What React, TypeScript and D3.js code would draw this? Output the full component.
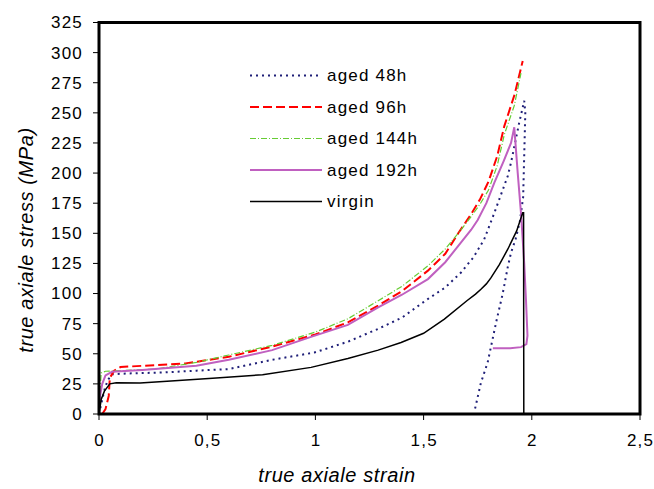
import React from 'react';
import * as d3 from 'd3';

// strain / stress pairs
const aged48h: [number, number][] = [
  [0, 0], [0.01, 8], [0.025, 20], [0.04, 28], [0.06, 33], [0.14, 33.7], [0.3, 34.5],
  [0.45, 36], [0.6, 37.3], [0.8, 45], [0.995, 51], [1.15, 60], [1.288, 70.5], [1.4, 80],
  [1.519, 95.4], [1.6, 105], [1.673, 117.5], [1.73, 130], [1.78, 145], [1.827, 167],
  [1.889, 197.6], [1.904, 208.7], [1.942, 242], [1.965, 260], [1.97, 250], [1.965, 215],
  [1.96, 180], [1.945, 160], [1.925, 145], [1.904, 134], [1.889, 122], [1.865, 99.5],
  [1.835, 76], [1.796, 42.8], [1.765, 26], [1.734, 1.4],
];
const aged96h: [number, number][] = [
  [0.015, 0], [0.03, 4], [0.045, 15], [0.05, 30], [0.07, 36], [0.1, 39], [0.2, 40],
  [0.4, 42], [0.6, 47.5], [0.8, 56], [1.0, 66], [1.15, 76], [1.29, 90], [1.4, 102],
  [1.52, 119], [1.6, 133], [1.66, 150], [1.72, 166], [1.76, 178], [1.8, 193], [1.84, 214],
  [1.873, 239], [1.92, 265], [1.958, 293],
];
const aged144h: [number, number][] = [
  [0, 0], [0.005, 20], [0.01, 34], [0.03, 35.5], [0.1, 36], [0.26, 37.3], [0.45, 42.8],
  [0.6, 49], [0.8, 57], [1.0, 68], [1.15, 79], [1.29, 94], [1.4, 106], [1.52, 123],
  [1.6, 137], [1.66, 150], [1.72, 164], [1.76, 174], [1.8, 186], [1.84, 206],
  [1.873, 232], [1.919, 256], [1.95, 283],
];
const aged192h: [number, number][] = [
  [0, 0], [0.005, 15], [0.015, 25], [0.03, 32], [0.06, 35], [0.2, 36.5], [0.45, 40],
  [0.6, 45], [0.8, 53], [0.98, 64], [1.15, 74], [1.29, 88.5], [1.4, 99], [1.52, 112],
  [1.6, 126], [1.72, 153], [1.75, 161], [1.79, 175], [1.827, 192], [1.87, 210],
  [1.904, 225], [1.919, 238], [1.935, 200], [1.95, 167], [1.965, 125], [1.973, 95],
  [1.98, 65], [1.975, 58], [1.95, 55.5], [1.9, 54.5], [1.82, 54.5],
];
const virgin: [number, number][] = [
  [0, 0], [0.01, 12], [0.025, 19], [0.05, 25], [0.08, 26], [0.19, 25.7], [0.35, 27.5],
  [0.525, 29.6], [0.756, 32.6], [0.98, 38.7], [1.15, 46], [1.29, 53], [1.396, 59.4],
  [1.5, 67], [1.596, 78.8], [1.7, 94], [1.74, 99.5], [1.765, 103.6], [1.79, 108],
  [1.811, 113], [1.85, 124], [1.889, 136.8], [1.93, 152], [1.958, 167], [1.962, 167],
  [1.963, 0],
];

const xTicks = [0, 0.5, 1, 1.5, 2, 2.5];
const yTicks = d3.range(0, 326, 25);

const series = [
  { name: 'aged 48h', data: aged48h, color: '#1f1f78', dash: '2,4', width: 2 },
  { name: 'aged 96h', data: aged96h, color: '#ff0000', dash: '9,4', width: 2 },
  { name: 'aged 144h', data: aged144h, color: '#66cc33', dash: '6,2,1,2', width: 1.2 },
  { name: 'aged 192h', data: aged192h, color: '#c060c0', dash: '', width: 2 },
  { name: 'virgin', data: virgin, color: '#000000', dash: '', width: 1.5 },
];

export default function App() {
  const width = 654;
  const height = 489;
  const x = d3.scaleLinear().domain([0, 2.5]).range([99, 640]);
  const y = d3.scaleLinear().domain([0, 325]).range([414, 22.5]);
  const line = d3.line<[number, number]>().x(d => x(d[0])).y(d => y(d[1]));
  const font = 'Liberation Sans, Arial, sans-serif';

  return (
    <svg width={width} height={height} style={{ position: 'absolute', left: 0, top: 0 }}
      fontFamily={font}>
      <rect width={width} height={height} fill="white" />
      {series.map(s => (
        <path key={s.name} d={line(s.data) || ''} fill="none" stroke={s.color}
          strokeWidth={s.width} strokeDasharray={s.dash || undefined} />
      ))}
      <rect x={x(0)} y={y(325)} width={x(2.5) - x(0)} height={y(0) - y(325)}
        fill="none" stroke="black" strokeWidth={3} />
      {yTicks.map(t => (
        <g key={'y' + t}>
          <line x1={x(0) - 6} x2={x(0)} y1={y(t)} y2={y(t)} stroke="black" strokeWidth={1} />
          <text x={83} y={y(t)} dy="0.35em" textAnchor="end" fontSize={17}
            letterSpacing={1.2}>{t}</text>
        </g>
      ))}
      {xTicks.map(t => (
        <g key={'x' + t}>
          <line x1={x(t)} x2={x(t)} y1={y(0)} y2={y(0) + 6} stroke="black" strokeWidth={1} />
          <text x={x(t) + 0.6} y={446} textAnchor="middle" fontSize={17}
            letterSpacing={1.2}>{String(t).replace('.', ',')}</text>
        </g>
      ))}
      <text x={337} y={482} textAnchor="middle" fontSize={20} fontStyle="italic"
        letterSpacing={0.6}>true axiale strain</text>
      <text transform="translate(33,240) rotate(-90)" textAnchor="middle" fontSize={20}
        fontStyle="italic" letterSpacing={0.6}>true axiale stress (MPa)</text>
      {series.map((s, i) => {
        const ly = 75.5 + i * 31.5;
        return (
          <g key={'l' + s.name}>
            <line x1={250} x2={322} y1={ly} y2={ly} stroke={s.color} strokeWidth={s.width}
              strokeDasharray={s.dash || undefined} />
            <text x={327} y={ly} dy="0.35em" fontSize={17} letterSpacing={1.2}>{s.name}</text>
          </g>
        );
      })}
    </svg>
  );
}
